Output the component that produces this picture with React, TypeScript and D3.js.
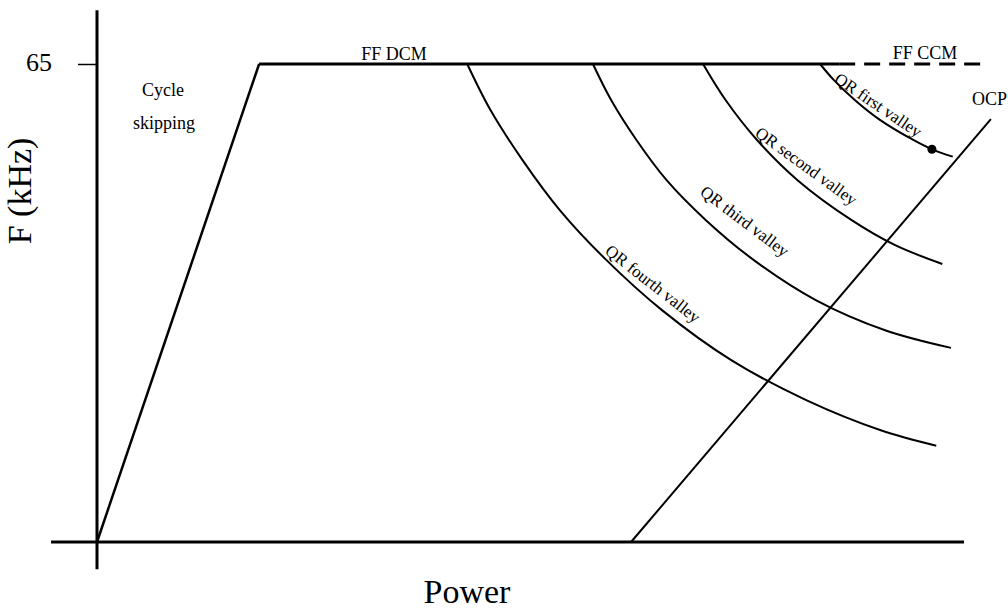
import { useEffect, useRef } from 'react';
import * as d3 from 'd3';

// valores del esquema: [potencia (%), frecuencia (kHz)]
const freqTicks = [65];
const cycleSkipping = [[0, 0], [18.7, 65]];
const ffDcm = [[18.7, 65], [85.6, 65]];
const ffCcm = [[85.6, 65], [102.2, 65]];
const qrFirst = [[83.4, 65], [85.0, 62.8], [87.4, 60.1], [90.3, 57.4], [94.1, 54.7], [96.3, 53.4], [98.7, 52.4]];
const qrSecond = [[69.9, 65], [72.5, 60.1], [76.1, 54.7], [80.8, 49.2], [87.0, 43.8], [92.0, 40.4], [97.5, 37.8]];
const qrThird = [[57.2, 65], [59.3, 60.1], [62.2, 54.7], [65.7, 49.2], [70.2, 43.8], [75.8, 38.3], [82.9, 32.9], [90.9, 28.8], [98.5, 26.4]];
const qrFourth = [[42.7, 65], [45.4, 58.7], [49.1, 51.9], [53.4, 45.1], [58.7, 38.4], [65.2, 31.5], [73.2, 24.7], [81.8, 19.3], [90.4, 15.2], [96.8, 13.1]];
const ocp = [[61.6, 0], [103.1, 57.5]];
const firstValleyPoint = [[96.3, 53.4]];

const valleyLabels = ['QR first valley', 'QR second valley', 'QR third valley', 'QR fourth valley'];
const valleyLabelAt = [[90.1, 59.4], [81.8, 51.1], [74.7, 43.6], [64.1, 35.1]];
const valleyLabelAngle = [34, 36, 37, 38];

const FONT = '"Liberation Serif", "Times New Roman", serif';

const App = () => {
    const svgRef = useRef<SVGSVGElement>(null);

    useEffect(() => {
        const width = 1008;
        const height = 613;

        const svg = d3.select(svgRef.current);
        svg.selectAll('*').remove();
        svg.attr('width', width).attr('height', height);

        const x = d3.scaleLinear().domain([0, 100]).range([97, 964]);
        const y = d3.scaleLinear().domain([0, 65]).range([542, 64]);

        const g = svg.append('g');

        // Ejes
        g.append('line')
            .attr('x1', x(-5.3)).attr('x2', x(100))
            .attr('y1', y(0)).attr('y2', y(0))
            .attr('stroke', '#000').attr('stroke-width', 3);
        g.append('line')
            .attr('x1', x(0)).attr('x2', x(0))
            .attr('y1', y(-3.7)).attr('y2', y(72.3))
            .attr('stroke', '#000').attr('stroke-width', 3);

        const yAxis = d3.axisLeft(y).tickValues(freqTicks).tickSize(19).tickPadding(26);
        const ya = g.append('g')
            .attr('transform', `translate(${x(0)},0)`)
            .call(yAxis);
        ya.select('.domain').remove();
        ya.selectAll('line').attr('stroke-width', 1.5);
        ya.selectAll('text')
            .attr('dy', '0.25em')
            .style('font-family', FONT)
            .style('font-size', '26px')
            .attr('fill', '#000');

        const line = d3.line<number[]>().x(d => x(d[0])).y(d => y(d[1]));
        const curve = d3.line<number[]>().x(d => x(d[0])).y(d => y(d[1])).curve(d3.curveCatmullRom.alpha(0.5));

        g.append('path').attr('d', line(cycleSkipping))
            .attr('fill', 'none').attr('stroke', '#000').attr('stroke-width', 2.5);
        g.append('path').attr('d', line(ffDcm))
            .attr('fill', 'none').attr('stroke', '#000').attr('stroke-width', 3);
        g.append('path').attr('d', line(ffCcm))
            .attr('fill', 'none').attr('stroke', '#000').attr('stroke-width', 3)
            .attr('stroke-dasharray', '16 9');

        [qrFirst, qrSecond, qrThird, qrFourth].forEach(s => {
            g.append('path').attr('d', curve(s))
                .attr('fill', 'none').attr('stroke', '#000').attr('stroke-width', 2);
        });

        g.append('path').attr('d', line(ocp))
            .attr('fill', 'none').attr('stroke', '#000').attr('stroke-width', 2);

        g.selectAll('.pt')
            .data(firstValleyPoint)
            .enter().append('circle')
            .attr('cx', d => x(d[0]))
            .attr('cy', d => y(d[1]))
            .attr('r', 4.5)
            .attr('fill', '#000');

        // Etiquetas de las curvas
        g.selectAll('.vlabel')
            .data(valleyLabels)
            .enter().append('text')
            .attr('transform', (d, i) => `translate(${x(valleyLabelAt[i][0])},${y(valleyLabelAt[i][1])}) rotate(${valleyLabelAngle[i]})`)
            .attr('text-anchor', 'middle')
            .attr('dominant-baseline', 'central')
            .style('font-family', FONT)
            .style('font-size', '17px')
            .text(d => d);

        const addText = (t: string, px: number, py: number, size: number, anchor = 'middle') =>
            g.append('text')
                .attr('x', px).attr('y', py)
                .attr('text-anchor', anchor)
                .style('font-family', FONT)
                .style('font-size', `${size}px`)
                .text(t);

        addText('FF DCM', 394, 60, 18);
        addText('FF CCM', 925, 59, 18);
        addText('OCP', 972, 105, 18, 'start');
        addText('Cycle', 163, 96, 18);
        addText('skipping', 164, 129, 18);
        addText('Power', 467, 603, 34);

        g.append('text')
            .attr('transform', 'translate(31,191) rotate(-90)')
            .attr('text-anchor', 'middle')
            .style('font-family', FONT)
            .style('font-size', '34px')
            .text('F (kHz)');
    }, []);

    return (
        <svg ref={svgRef} style={{ position: 'absolute', left: 0, top: 0 }}></svg>
    );
};

export default App;
